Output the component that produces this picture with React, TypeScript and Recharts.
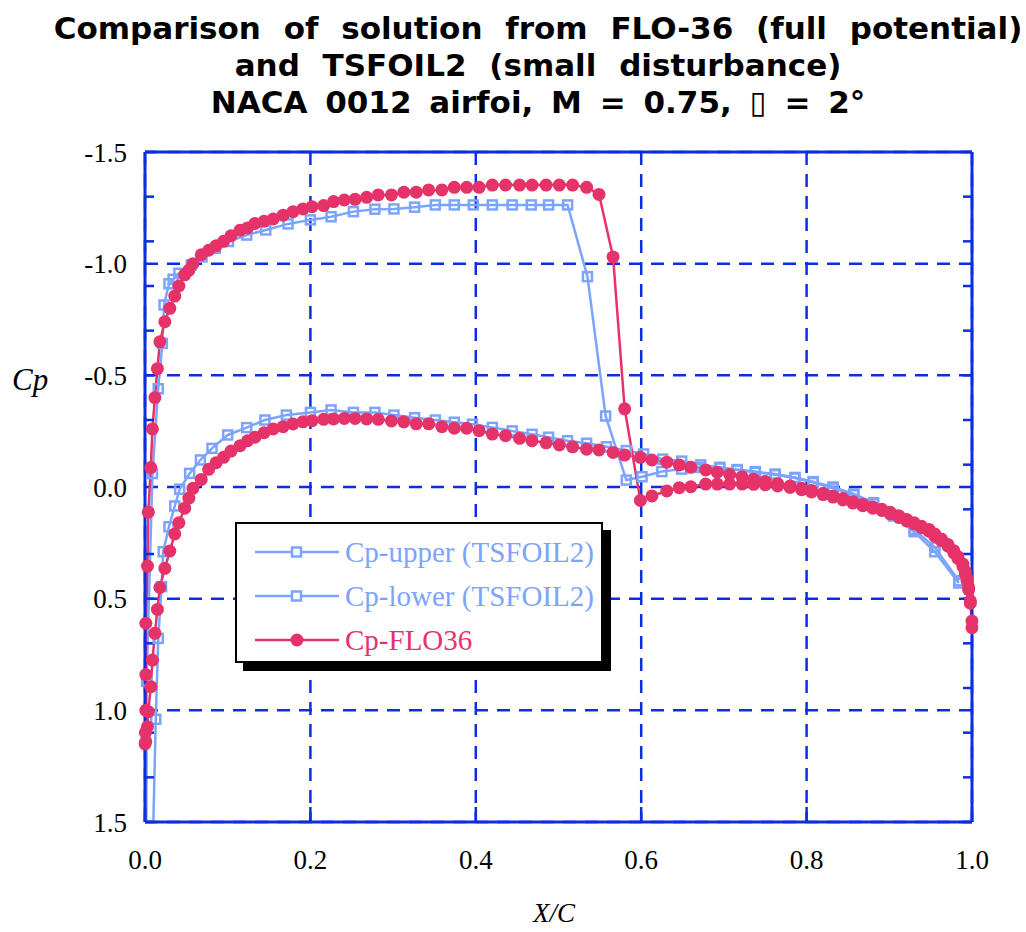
import { CartesianGrid, Line, LineChart, XAxis, YAxis } from "recharts";

const BLUE = "#7ca4ff";
const RED = "#e5336a";
const AXIS = "#0b2fe0";

const xTicks = [0, 0.2, 0.4, 0.6, 0.8, 1.0];
const yTicks = [-1.5, -1.0, -0.5, 0, 0.5, 1.0, 1.5];
const yMinorTicks = [
  -1.5, -1.4, -1.3, -1.2, -1.1, -1.0, -0.9, -0.8, -0.7, -0.6, -0.5, -0.4, -0.3, -0.2, -0.1, 0,
  0.1, 0.2, 0.3, 0.4, 0.5, 0.6, 0.7, 0.8, 0.9, 1.0, 1.1, 1.2, 1.3, 1.4, 1.5,
];

// TSFOIL2, upper surface [x/c, Cp]
const tsUpper: [number, number][] = [
  [0.0015, 2.0], [0.002, 0.87], [0.009, -0.06], [0.016, -0.44], [0.021, -0.643],
  [0.023, -0.815], [0.029, -0.91], [0.034, -0.93], [0.041, -0.957], [0.056, -0.994],
  [0.069, -1.03], [0.085, -1.069], [0.101, -1.099], [0.123, -1.128], [0.146, -1.151],
  [0.173, -1.178], [0.2, -1.196], [0.225, -1.21], [0.252, -1.233], [0.278, -1.244],
  [0.301, -1.245], [0.326, -1.253], [0.351, -1.263], [0.374, -1.263], [0.397, -1.263],
  [0.42, -1.263], [0.444, -1.263], [0.467, -1.263], [0.488, -1.263], [0.511, -1.263],
  [0.535, -0.942], [0.557, -0.318], [0.582, -0.031], [0.601, -0.046], [0.625, -0.069],
  [0.649, -0.08], [0.671, -0.088], [0.695, -0.085], [0.716, -0.078], [0.738, -0.069],
  [0.762, -0.058], [0.786, -0.043], [0.808, -0.024], [0.832, 0.0], [0.857, 0.031],
  [0.881, 0.07], [0.905, 0.125], [0.93, 0.19], [0.955, 0.27], [0.984, 0.42],
];

// TSFOIL2, lower surface
const tsLower: [number, number][] = [
  [0.007, 2.0], [0.013, 1.04], [0.016, 0.678], [0.02, 0.446], [0.022, 0.29],
  [0.029, 0.178], [0.036, 0.085], [0.042, 0.01], [0.054, -0.061], [0.067, -0.121],
  [0.081, -0.173], [0.1, -0.233], [0.123, -0.266], [0.145, -0.3], [0.171, -0.322],
  [0.2, -0.334], [0.225, -0.345], [0.252, -0.334], [0.278, -0.334], [0.301, -0.322],
  [0.326, -0.31], [0.351, -0.3], [0.374, -0.29], [0.396, -0.281], [0.42, -0.267],
  [0.444, -0.251], [0.468, -0.236], [0.488, -0.223], [0.511, -0.207], [0.534, -0.196],
  [0.558, -0.18], [0.582, -0.163], [0.603, -0.148], [0.626, -0.125], [0.649, -0.116],
  [0.672, -0.099], [0.695, -0.088], [0.716, -0.076], [0.738, -0.066], [0.762, -0.055],
  [0.786, -0.04], [0.808, -0.02], [0.832, 0.005], [0.857, 0.035], [0.881, 0.075],
  [0.905, 0.13], [0.93, 0.2], [0.955, 0.29], [0.984, 0.43],
];

// FLO-36, lower surface from trailing edge to leading edge
const floLower: [number, number][] = [
  [1.0, 0.63], [0.998, 0.51], [0.996, 0.45], [0.994, 0.41], [0.992, 0.38],
  [0.989, 0.345], [0.983, 0.312], [0.978, 0.285], [0.971, 0.258], [0.963, 0.233],
  [0.955, 0.21], [0.948, 0.19], [0.939, 0.176], [0.93, 0.16], [0.921, 0.145],
  [0.912, 0.13], [0.901, 0.113], [0.891, 0.1], [0.88, 0.09], [0.868, 0.078],
  [0.856, 0.066], [0.844, 0.052], [0.832, 0.04], [0.82, 0.028], [0.806, 0.016],
  [0.794, 0.006], [0.78, -0.005], [0.765, -0.015], [0.75, -0.025], [0.736, -0.035],
  [0.722, -0.046], [0.707, -0.056], [0.692, -0.066], [0.678, -0.076], [0.66, -0.088],
  [0.646, -0.099], [0.631, -0.111], [0.613, -0.121], [0.599, -0.133], [0.58, -0.143],
  [0.566, -0.155], [0.549, -0.166], [0.534, -0.169], [0.517, -0.18], [0.501, -0.188],
  [0.485, -0.198], [0.468, -0.207], [0.453, -0.218], [0.436, -0.23], [0.42, -0.237],
  [0.404, -0.252], [0.389, -0.263], [0.374, -0.263], [0.359, -0.27], [0.343, -0.283],
  [0.328, -0.283], [0.313, -0.292], [0.298, -0.296], [0.282, -0.303], [0.268, -0.305],
  [0.254, -0.307], [0.241, -0.307], [0.228, -0.305], [0.216, -0.303], [0.202, -0.297],
  [0.191, -0.292], [0.179, -0.282], [0.167, -0.27], [0.155, -0.26], [0.144, -0.243],
  [0.133, -0.223], [0.124, -0.207], [0.115, -0.185], [0.104, -0.161], [0.095, -0.133],
  [0.086, -0.109], [0.077, -0.079], [0.068, -0.034], [0.058, 0.006], [0.053, 0.05],
  [0.048, 0.095], [0.041, 0.16], [0.036, 0.21], [0.03, 0.287], [0.024, 0.364],
  [0.018, 0.45], [0.015, 0.548], [0.012, 0.655], [0.009, 0.775], [0.007, 0.894],
  [0.004, 1.006], [0.003, 1.073], [0.001, 1.14],
];

// FLO-36, upper surface from leading edge to trailing edge
const floUpper: [number, number][] = [
  [0.0, 1.15], [0.0005, 1.1], [0.001, 1.0], [0.001, 0.84], [0.001, 0.61],
  [0.003, 0.354], [0.004, 0.113], [0.007, -0.087], [0.009, -0.26], [0.012, -0.4],
  [0.015, -0.53], [0.018, -0.65], [0.024, -0.74], [0.03, -0.8], [0.036, -0.855],
  [0.041, -0.9], [0.048, -0.95], [0.053, -0.97], [0.058, -1.0], [0.068, -1.04],
  [0.077, -1.06], [0.086, -1.08], [0.095, -1.1], [0.104, -1.125], [0.115, -1.15],
  [0.124, -1.16], [0.133, -1.18], [0.144, -1.19], [0.155, -1.2], [0.167, -1.217],
  [0.179, -1.233], [0.191, -1.245], [0.202, -1.255], [0.216, -1.26], [0.228, -1.278],
  [0.241, -1.285], [0.254, -1.288], [0.268, -1.297], [0.282, -1.308], [0.298, -1.308],
  [0.313, -1.32], [0.328, -1.32], [0.343, -1.33], [0.359, -1.33], [0.374, -1.342],
  [0.389, -1.342], [0.404, -1.342], [0.42, -1.352], [0.436, -1.352], [0.453, -1.352],
  [0.468, -1.352], [0.485, -1.352], [0.501, -1.352], [0.517, -1.352], [0.534, -1.342],
  [0.549, -1.31], [0.566, -1.03], [0.58, -0.35], [0.599, 0.06], [0.613, 0.04],
  [0.631, 0.018], [0.646, 0.003], [0.66, -0.001], [0.678, -0.013], [0.692, -0.013],
  [0.707, -0.013], [0.722, -0.013], [0.736, -0.012], [0.75, -0.01], [0.765, -0.005],
  [0.78, 0.002], [0.794, 0.012], [0.806, 0.022], [0.82, 0.034], [0.832, 0.045],
  [0.844, 0.058], [0.856, 0.072], [0.868, 0.084], [0.88, 0.095], [0.891, 0.105],
  [0.901, 0.12], [0.912, 0.137], [0.921, 0.152], [0.93, 0.165], [0.939, 0.182],
  [0.948, 0.198], [0.955, 0.22], [0.963, 0.24], [0.971, 0.265], [0.978, 0.295],
  [0.983, 0.32], [0.989, 0.355], [0.992, 0.39], [0.994, 0.42], [0.996, 0.46],
  [0.998, 0.52], [1.0, 0.6],
];

const toPoints = (pts: [number, number][]) => pts.map(([x, cp]) => ({ x, cp }));

const upperData = toPoints(tsUpper);
const lowerData = toPoints(tsLower);
const floData = toPoints([...floLower, ...floUpper]);

const SERIF = "'Liberation Serif', 'Times New Roman', serif";
const fmt = (v: number) => v.toFixed(1);

// empty tick label, so only the inward tick marks are drawn
const NoTick = () => <g />;

const squareDot = (props: any) => {
  const { cx, cy, index } = props;
  if (cx == null || cy == null) return <g key={index} />;
  return (
    <rect
      key={index}
      x={cx - 4.5}
      y={cy - 4.5}
      width={9}
      height={9}
      fill="none"
      stroke={BLUE}
      strokeWidth={2.5}
    />
  );
};

function LegendRow({ color, label, square }: { color: string; label: string; square: boolean }) {
  return (
    <div style={{ display: "flex", alignItems: "center", height: 44 }}>
      <svg width={100} height={20} style={{ marginLeft: 16 }}>
        <line x1={2} y1={10} x2={86} y2={10} stroke={color} strokeWidth={2.5} />
        {square ? (
          <rect x={39} y={5.5} width={9} height={9} fill="white" stroke={color} strokeWidth={2.5} />
        ) : (
          <circle cx={44} cy={10} r={6.5} fill={color} />
        )}
      </svg>
      <span style={{ color, fontFamily: SERIF, fontSize: 29, marginLeft: -8 }}>{label}</span>
    </div>
  );
}

export default function App() {
  return (
    <div style={{ position: "absolute", left: 0, top: 0, width: 1026, height: 932, background: "#fff" }}>
      <div
        style={{
          position: "absolute",
          left: 38,
          top: 10,
          width: 1000,
          textAlign: "center",
          fontFamily: "'DejaVu Sans', sans-serif",
          fontWeight: "bold",
          fontSize: 31,
          lineHeight: "37px",
          wordSpacing: 12,
          color: "#000",
          whiteSpace: "nowrap",
        }}
      >
        <div>Comparison of solution from FLO-36 (full potential)</div>
        <div>and TSFOIL2 (small disturbance)</div>
        <div style={{ wordSpacing: 7 }}>NACA 0012 airfoi, M = 0.75, ▯ = 2°</div>
      </div>

      <LineChart
        width={1026}
        height={932}
        margin={{ top: 152, right: 54, bottom: 70, left: 85 }}
        style={{ position: "absolute", left: 0, top: 0 }}
      >
        <CartesianGrid stroke={AXIS} strokeWidth={2.5} strokeDasharray="13 9" />
        <XAxis
          dataKey="x"
          type="number"
          domain={[0, 1]}
          ticks={xTicks}
          tickFormatter={fmt}
          axisLine={{ stroke: AXIS, strokeWidth: 3 }}
          tickLine={false}
          tickSize={0}
          tickMargin={28}
          height={40}
          tick={{ fill: "#000", fontSize: 27, fontFamily: SERIF }}
        />
        <XAxis
          xAxisId="inner"
          dataKey="x"
          type="number"
          domain={[0, 1]}
          ticks={xTicks}
          mirror
          height={1}
          tick={NoTick}
          axisLine={false}
          tickLine={{ stroke: AXIS, strokeWidth: 2.5 }}
          tickSize={15}
        />
        <XAxis
          xAxisId="top"
          dataKey="x"
          orientation="top"
          type="number"
          domain={[0, 1]}
          ticks={xTicks}
          mirror
          height={1}
          tick={false}
          tickLine={false}
          axisLine={{ stroke: AXIS, strokeWidth: 3 }}
        />
        <YAxis
          type="number"
          domain={[-1.5, 1.5]}
          reversed
          allowDataOverflow
          ticks={yTicks}
          tickFormatter={fmt}
          axisLine={{ stroke: AXIS, strokeWidth: 3 }}
          tickLine={false}
          tickSize={0}
          tickMargin={18}
          width={60}
          tick={{ fill: "#000", fontSize: 27, fontFamily: SERIF }}
        />
        <YAxis
          yAxisId="innerLeft"
          type="number"
          domain={[-1.5, 1.5]}
          reversed
          ticks={yMinorTicks}
          mirror
          width={1}
          tick={NoTick}
          axisLine={false}
          tickLine={{ stroke: AXIS, strokeWidth: 2.5 }}
          tickSize={9}
        />
        <YAxis
          yAxisId="right"
          orientation="right"
          type="number"
          domain={[-1.5, 1.5]}
          reversed
          ticks={yMinorTicks}
          mirror
          width={1}
          tick={NoTick}
          axisLine={{ stroke: AXIS, strokeWidth: 3 }}
          tickLine={{ stroke: AXIS, strokeWidth: 2.5 }}
          tickSize={9}
        />
        {/* invisible series so the tick-only frame axes get a scale */}
        <Line
          data={floData}
          dataKey="cp"
          xAxisId="inner"
          yAxisId="innerLeft"
          stroke="none"
          dot={false}
          activeDot={false}
          legendType="none"
          isAnimationActive={false}
        />
        <Line
          data={floData}
          dataKey="cp"
          xAxisId="top"
          yAxisId="right"
          stroke="none"
          dot={false}
          activeDot={false}
          legendType="none"
          isAnimationActive={false}
        />
        <Line
          data={upperData}
          dataKey="cp"
          name="Cp-upper (TSFOIL2)"
          stroke={BLUE}
          strokeWidth={2.5}
          dot={squareDot}
          isAnimationActive={false}
        />
        <Line
          data={lowerData}
          dataKey="cp"
          name="Cp-lower (TSFOIL2)"
          stroke={BLUE}
          strokeWidth={2.5}
          dot={squareDot}
          isAnimationActive={false}
        />
        <Line
          data={floData}
          dataKey="cp"
          name="Cp-FLO36"
          stroke={RED}
          strokeWidth={2.5}
          dot={{ r: 6.5, fill: RED, stroke: RED, strokeWidth: 0, clipDot: false }}
          isAnimationActive={false}
        />
      </LineChart>

      <div
        style={{
          position: "absolute",
          left: 235,
          top: 522,
          width: 368,
          height: 141,
          border: "2px solid #000",
          background: "#fff",
          boxShadow: "8px 8px 0 #000",
          paddingTop: 6,
          boxSizing: "border-box",
        }}
      >
        <LegendRow color={BLUE} label="Cp-upper (TSFOIL2)" square />
        <LegendRow color={BLUE} label="Cp-lower (TSFOIL2)" square />
        <LegendRow color={RED} label="Cp-FLO36" square={false} />
      </div>

      <div
        style={{
          position: "absolute",
          left: 12,
          top: 362,
          fontFamily: SERIF,
          fontStyle: "italic",
          fontSize: 31,
        }}
      >
        Cp
      </div>
      <div
        style={{
          position: "absolute",
          left: 533,
          top: 898,
          fontFamily: SERIF,
          fontStyle: "italic",
          fontSize: 27,
        }}
      >
        X/C
      </div>
    </div>
  );
}
